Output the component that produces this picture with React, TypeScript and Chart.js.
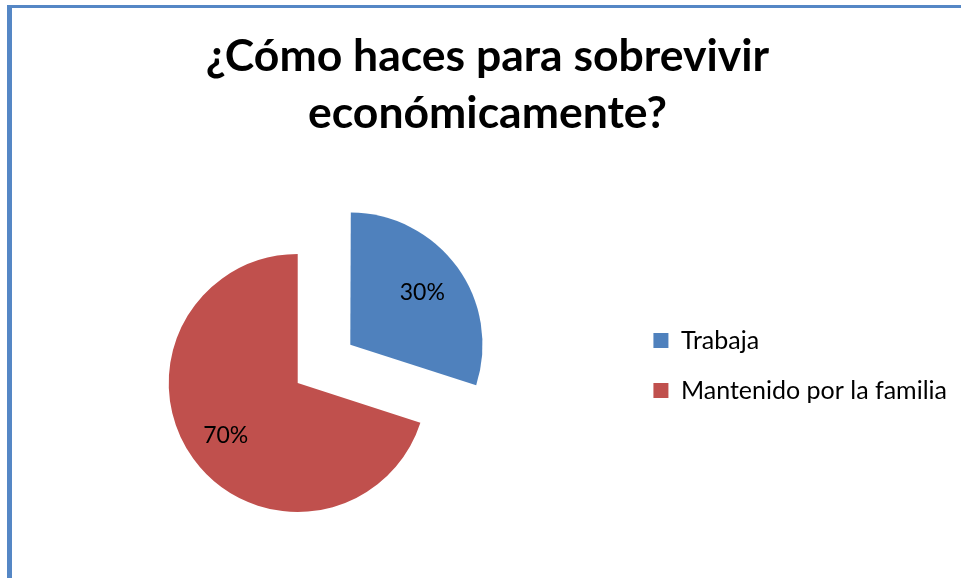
import React, { useEffect, useRef } from 'react';
import { Chart, registerables, layouts } from 'chart.js';

Chart.register(...registerables);

// ---- data ----
const categories: string[] = ['Trabaja', 'Mantenido por la familia'];
const values: number[] = [30, 70];
const percentLabels: string[] = ['30%', '70%'];
const titleLines: string[] = ['¿Cómo haces para sobrevivir', 'económicamente?'];

const SPACER_WIDTH = 51;

const spacerPlugin = {
  id: 'legendSpacer',
  beforeInit(chart: any) {
    const box: any = {
      position: 'right',
      weight: 500,
      fullSize: false,
      options: { display: false, stackWeight: 1 },
      width: 0,
      height: 0,
      left: 0,
      top: 0,
      right: 0,
      bottom: 0,
      isHorizontal: () => false,
      update(maxWidth: number, maxHeight: number) {
        box.width = SPACER_WIDTH;
        box.height = maxHeight;
      },
      draw() {},
    };
    layouts.addBox(chart, box);
  },
};

const percentPlugin = {
  id: 'percentLabels',
  afterDatasetsDraw(chart: any) {
    const meta = chart.getDatasetMeta(0);
    const ctx = chart.ctx;
    ctx.save();
    ctx.font = '23px Lato';
    ctx.fillStyle = '#000000';
    ctx.textAlign = 'center';
    ctx.textBaseline = 'middle';
    meta.data.forEach((arc: any, i: number) => {
      const { x, y, startAngle, endAngle, outerRadius } = arc.getProps(
        ['x', 'y', 'startAngle', 'endAngle', 'outerRadius'],
        true
      );
      const mid = (startAngle + endAngle) / 2;
      const d = (arc.options.offset || 0) / 4 + outerRadius * 0.69;
      ctx.fillText(percentLabels[i], x + Math.cos(mid) * d, y + Math.sin(mid) * d);
    });
    ctx.restore();
  },
};

export default function App() {
  const canvasRef = useRef<HTMLCanvasElement | null>(null);

  useEffect(() => {
    if (!canvasRef.current) return;
    const chart = new Chart(canvasRef.current, {
      type: 'pie',
      data: {
        labels: categories,
        datasets: [
          {
            data: values,
            backgroundColor: ['#4F81BD', '#C0504D'],
            borderWidth: 0,
            offset: [260, 0],
            hoverOffset: 0,
          },
        ],
      },
      options: {
        responsive: false,
        animation: false,
        radius: 129,
        cutout: '0%',
        layout: { padding: { top: 0, bottom: 115, left: 18, right: 4 } },
        plugins: {
          title: {
            display: true,
            text: titleLines,
            color: '#000000',
            font: { family: 'Lato', size: 44.5, weight: 'bold', lineHeight: 57 / 44.5 },
            padding: { top: 28.5, bottom: 160.5 },
          },
          legend: {
            display: true,
            position: 'right',
            align: 'start',
            fullSize: false,
            labels: {
              boxWidth: 15,
              boxHeight: 15,
              padding: 25,
              color: '#000000',
              font: { family: 'Lato', size: 25 },
            },
          },
          tooltip: { enabled: false },
        },
      } as any,
      plugins: [spacerPlugin, percentPlugin],
    });
    return () => chart.destroy();
  }, []);

  return (
    <div style={{ position: 'fixed', left: 0, top: 0, width: 961, height: 578, background: '#fff', overflow: 'hidden' }}>
      <div
        style={{
          position: 'absolute',
          left: 7,
          top: 5,
          right: 0,
          bottom: 0,
          borderLeft: '5px solid #5587C5',
          borderTop: '3px solid #5587C5',
        }}
      />
      <canvas
        ref={canvasRef}
        width={961}
        height={578}
        style={{ position: 'absolute', left: 0, top: 0, width: 961, height: 578, display: 'block' }}
      />
    </div>
  );
}
